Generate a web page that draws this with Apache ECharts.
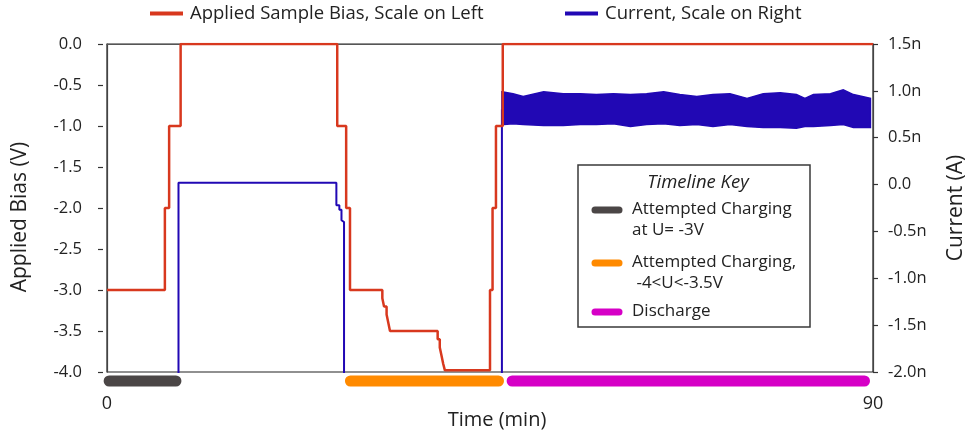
<!DOCTYPE html>
<html>
<head>
<meta charset="utf-8">
<script src="https://cdn.jsdelivr.net/npm/echarts@6/dist/echarts.min.js"></script>
<style>
html, body { margin: 0; padding: 0; background: #fff; }
#chart { width: 972px; height: 434px; }
</style>
</head>
<body>
<div id="chart"></div>
<script>
// applied bias (V), each value holds from its time (min) until the next one
var biasTime  = [0, 6.8, 7.3, 8.65, 27.05, 28.1, 28.55, 32.35, 32.55, 32.85, 33.05, 33.25, 38.85, 39.1, 39.3, 39.5, 39.7, 45.0, 45.3, 45.7, 46.5, 90];
var biasVolts = [-3, -2, -1, 0, -1, -2, -3, -3.1, -3.2, -3.3, -3.4, -3.5, -3.6, -3.7, -3.8, -3.9, -3.98, -3, -2, -1, 0, 0];

// current (nA), step values; below -2.0 is off scale
var currentTime = [0, 8.4, 26.95, 27.3, 27.55, 27.7, 27.85, 46.4];
var currentNA   = [-2.2, 0.02, -0.22, -0.27, -0.38, -0.40, -2.2, 0.8];

// noisy discharge current, upper and lower edge of the band (nA)
var bandTime = [46.4, 47.7, 48.9, 51.3, 53.6, 55.6, 57.5, 59.5, 61.5, 63.4, 65.4, 67.3, 69.3, 71.2, 73.2, 75.2, 77.1, 79.1, 81.0, 82.0, 83.0, 85.0, 86.5, 87.7, 89.7];
var bandHigh = [0.99, 0.97, 0.94, 0.99, 0.97, 0.97, 0.96, 0.97, 0.96, 0.97, 0.99, 0.96, 0.94, 0.96, 0.97, 0.92, 0.97, 0.98, 0.96, 0.92, 0.96, 0.97, 1.01, 0.96, 0.92];
var bandLow  = [0.64, 0.65, 0.64, 0.63, 0.63, 0.64, 0.64, 0.65, 0.62, 0.64, 0.65, 0.63, 0.64, 0.62, 0.64, 0.62, 0.61, 0.61, 0.60, 0.62, 0.62, 0.63, 0.64, 0.61, 0.61];

// timeline phases (min)
var phaseLabels = ['Attempted Charging\nat U= -3V', 'Attempted Charging,\n -4<U<-3.5V', 'Discharge'];
var phaseStart  = [0.25, 28.6, 47.6];
var phaseEnd    = [8.1, 46.0, 89.0];
var phaseColors = ['#4b4646', '#ff8a00', '#d600c6'];

var redColor = '#d8381e';
var blueColor = '#2108b4';
var font = 'Open Sans';

var chart = echarts.init(document.getElementById('chart'));

var biasData = biasTime.map(function(t, i) { return [t, biasVolts[i]]; });
var currentData = currentTime.map(function(t, i) { return [t, currentNA[i]]; });
var bandData = bandTime.map(function(t, i) { return [t, bandLow[i], bandHigh[i]]; });
var phaseData = phaseStart.map(function(s, i) { return [s, phaseEnd[i], i]; });

var keyItems = [];
var keyY = [210, 263, 312];
keyItems.push({
    type: 'rect', shape: { x: 578, y: 165, width: 232, height: 162 },
    style: { fill: '#fff', stroke: '#3a3a3a', lineWidth: 1.5 }
});
keyItems.push({
    type: 'text', x: 698, y: 183,
    style: { text: 'Timeline Key', font: 'italic 18.5px "' + font + '"', fill: '#222', align: 'center', verticalAlign: 'middle' }
});
phaseLabels.forEach(function(lab, i) {
    keyItems.push({
        type: 'line', shape: { x1: 595, y1: keyY[i], x2: 619, y2: keyY[i] },
        style: { stroke: phaseColors[i], lineWidth: 7, lineCap: 'round' }
    });
    keyItems.push({
        type: 'text', x: 632, y: keyY[i] - 11,
        style: { text: lab, font: '17px "' + font + '"', fill: '#222', lineHeight: 21, verticalAlign: 'top' }
    });
});

var option = {
    backgroundColor: '#fff',
    animation: false,
    textStyle: { fontFamily: font },
    grid: {
        left: 107, right: 99, top: 44, bottom: 62,
        outerBoundsMode: 'none',
        show: true, borderColor: '#222', borderWidth: 1.2
    },
    legend: [{
        left: 150, top: 4, padding: 0, itemGap: 0,
        icon: 'rect', itemWidth: 33, itemHeight: 4,
        data: ['Applied Sample Bias, Scale on Left'],
        textStyle: { fontSize: 18.5, color: '#222', fontFamily: font, padding: [0, 0, 0, 2] }
    }, {
        left: 565, top: 4, padding: 0, itemGap: 0,
        icon: 'rect', itemWidth: 33, itemHeight: 4,
        data: ['Current, Scale on Right'],
        textStyle: { fontSize: 18.5, color: '#222', fontFamily: font, padding: [0, 0, 0, 2] }
    }],
    xAxis: {
        type: 'value', min: 0, max: 90, interval: 90,
        name: 'Time (min)', nameLocation: 'middle', nameGap: 38, nameMoveOverlap: false,
        nameTextStyle: { fontSize: 20, color: '#222', padding: [0, 0, 0, 14] },
        axisLine: { lineStyle: { color: '#555', width: 1.2 } },
        axisTick: { show: false },
        axisLabel: { margin: 23, fontSize: 18, color: '#222' },
        splitLine: { show: false }
    },
    yAxis: [{
        type: 'value', min: -4, max: 0, interval: 0.5,
        name: 'Applied Bias (V)', nameLocation: 'middle', nameGap: 76, nameRotate: 90,
        nameTextStyle: { fontSize: 21, color: '#222', padding: [0, 18, 0, 0] },
        axisLine: { show: true, lineStyle: { color: '#444', width: 1.2 } },
        axisTick: { show: true, length: 9, lineStyle: { color: '#333', width: 1.2, type: [5, 4], dashOffset: 5 } },
        axisLabel: { margin: 25, fontSize: 16.5, color: '#222', formatter: function(v) { return v.toFixed(1); } },
        splitLine: { show: false }
    }, {
        type: 'value', min: -2, max: 1.5, interval: 0.5, position: 'right',
        name: 'Current (A)', nameLocation: 'middle', nameGap: 73, nameRotate: 90,
        nameTextStyle: { fontSize: 21, color: '#222' },
        axisLine: { show: true, lineStyle: { color: '#444', width: 1.2 } },
        axisTick: { show: true, length: 5, lineStyle: { color: '#333', width: 1.2 } },
        axisLabel: { margin: 15, fontSize: 16.5, color: '#222', formatter: function(v) { return v === 0 ? '0.0' : v.toFixed(1) + 'n'; } },
        splitLine: { show: false }
    }],
    series: [{
        name: 'Current, Scale on Right',
        type: 'line', yAxisIndex: 1, step: 'end', showSymbol: false,
        color: blueColor,
        lineStyle: { color: blueColor, width: 2 },
        data: currentData, z: 3
    }, {
        name: 'current band',
        type: 'custom', yAxisIndex: 1, z: 3,
        renderItem: function(params, api) {
            if (params.dataIndex !== 0) return;
            var top = [], bottom = [];
            bandData.forEach(function(d) {
                top.push(api.coord([d[0], d[2]]));
                bottom.unshift(api.coord([d[0], d[1]]));
            });
            return {
                type: 'polygon',
                shape: { points: top.concat(bottom) },
                style: { fill: blueColor, stroke: blueColor, lineWidth: 1.5, lineJoin: 'miter' }
            };
        },
        encode: { x: 0, y: [1, 2] },
        data: bandData
    }, {
        name: 'Applied Sample Bias, Scale on Left',
        type: 'line', yAxisIndex: 0, step: 'end', showSymbol: false,
        color: redColor,
        lineStyle: { color: redColor, width: 2.5 },
        data: biasData, z: 4
    }, {
        name: 'timeline',
        type: 'custom', yAxisIndex: 0, z: 5,
        renderItem: function(params, api) {
            var p0 = api.coord([api.value(0), -4]);
            var p1 = api.coord([api.value(1), -4]);
            return {
                type: 'line',
                shape: { x1: p0[0], y1: p0[1] + 9, x2: p1[0], y2: p1[1] + 9 },
                style: { stroke: phaseColors[api.value(2)], lineWidth: 11, lineCap: 'round' }
            };
        },
        encode: { x: [0, 1] },
        data: phaseData
    }],
    graphic: keyItems
};
chart.setOption(option);
</script>
</body>
</html>
